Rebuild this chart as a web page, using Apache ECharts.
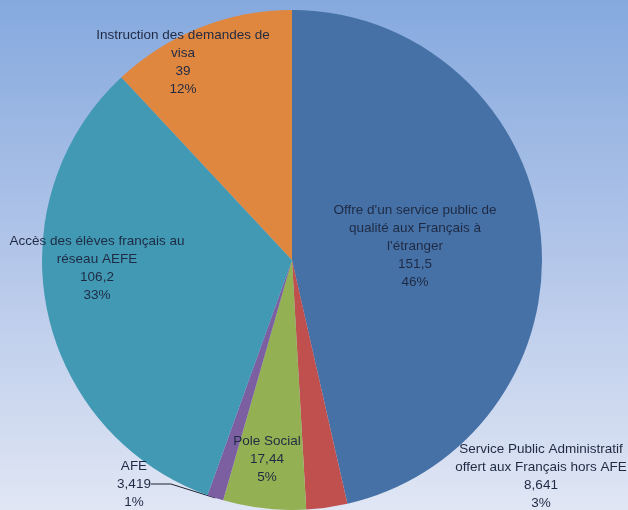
<!DOCTYPE html>
<html>
<head>
<meta charset="utf-8">
<script src="https://cdn.jsdelivr.net/npm/echarts@6/dist/echarts.min.js"></script>
<style>
  html, body { margin: 0; padding: 0; }
  #chart { width: 628px; height: 510px; }
</style>
</head>
<body>
<div id="chart"></div>
<script>
// Budget categories (M€), clockwise from 12 o'clock
const categories = [
  "Offre d'un service public de\nqualité aux Français à\nl'étranger",
  "Service Public Administratif\noffert aux Français hors AFE",
  "Pole Social",
  "AFE",
  "Accès des élèves français au\nréseau AEFE",
  "Instruction des demandes de\nvisa"
];
const values = [151.5, 8.641, 17.44, 3.419, 106.2, 39];
const valueLabels = ["151,5", "8,641", "17,44", "3,419", "106,2", "39"];
const sliceColors = ["#4671a6", "#c0504d", "#93b152", "#7c5fa0", "#4199b3", "#e0873f"];

// label anchor points (chart pixels) for each category
const labelSpots = [
  [415, 246], [541, 476], [267, 459], [134, 484], [97, 268], [183, 62]
];

const chart = echarts.init(document.getElementById('chart'));
chart.setOption({
  backgroundColor: {
    type: 'linear', x: 0, y: 0, x2: 0, y2: 1,
    colorStops: [
      { offset: 0, color: '#85a9de' },
      { offset: 0.5, color: '#b3c6e9' },
      { offset: 1, color: '#e0e6f4' }
    ]
  },
  series: [{
    type: 'pie',
    center: [292, 260],
    radius: [0, 250],
    startAngle: 90,
    clockwise: true,
    animation: false,
    silent: true,
    data: categories.map((name, i) => ({
      name: name,
      value: values[i],
      itemStyle: { color: sliceColors[i] },
      labelLine: { show: i === 3, length: 10, length2: 20, lineStyle: { color: '#1c2230', width: 1 } }
    })),
    label: {
      show: true,
      position: 'outside',
      overflow: 'none',
      formatter: p => p.name + '\n' + valueLabels[p.dataIndex] + '\n' + Math.round(p.percent) + '%',
      color: '#1f2a44',
      fontFamily: 'Liberation Sans',
      fontSize: 13.5,
      lineHeight: 18,
      align: 'center'
    },
    labelLine: { show: false },
    labelLayout: params => ({
      x: labelSpots[params.dataIndex][0],
      y: labelSpots[params.dataIndex][1],
      align: 'center',
      verticalAlign: 'middle'
    })
  }]
});
</script>
</body>
</html>
